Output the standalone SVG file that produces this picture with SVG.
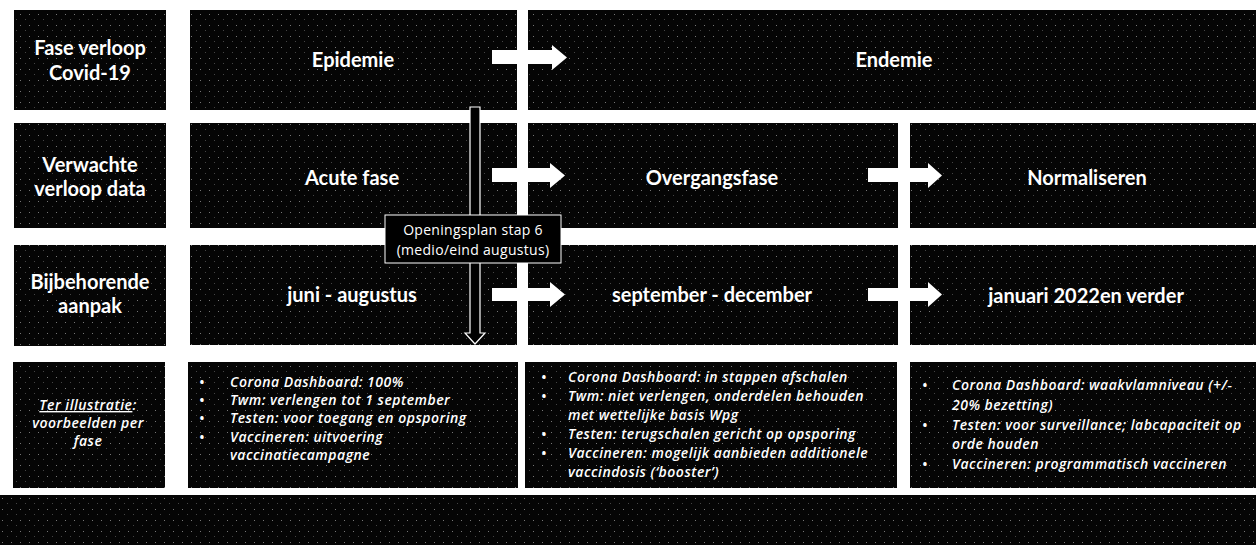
<svg xmlns="http://www.w3.org/2000/svg" width="1256" height="545" viewBox="0 0 1256 545">
<defs>
<pattern id="speck" width="9" height="11" patternUnits="userSpaceOnUse">
<rect width="9" height="11" fill="#050505"/>
<rect x="2" y="3" width="1" height="1" fill="#fff" fill-opacity="0.45"/>
<rect x="7" y="8" width="1" height="1" fill="#fff" fill-opacity="0.25"/>
</pattern>
<style>
.box{fill:url(#speck);}
.lbl{font-family:Lato,"Liberation Sans",sans-serif;font-weight:bold;font-size:20px;fill:#fff;text-anchor:middle;}
.ph{font-family:Lato,"Liberation Sans",sans-serif;font-weight:bold;font-size:20px;fill:#fff;text-anchor:middle;}
.it{font-family:"Open Sans","Liberation Sans",sans-serif;font-style:italic;font-weight:600;font-size:14px;letter-spacing:0.5px;fill:#fff;}
.itc{font-family:"Open Sans","Liberation Sans",sans-serif;font-style:italic;font-weight:600;font-size:14px;letter-spacing:0.5px;fill:#fff;text-anchor:middle;}
.call{font-family:"Open Sans","Liberation Sans",sans-serif;font-size:14px;letter-spacing:0.3px;fill:#fff;text-anchor:middle;}
.arr{fill:#fff;}
</style>
</defs>
<rect width="1256" height="545" fill="#fff"/>

<g id="row1">
<g id="lbl-fase"><rect class="box" x="14" y="10" width="152" height="100"/>
<text class="lbl" x="90" y="55">Fase verloop</text><text class="lbl" x="90" y="80">Covid-19</text></g>
<g id="epidemie"><rect class="box" x="190" y="10" width="327" height="100"/>
<text class="ph" x="353" y="67">Epidemie</text></g>
<g id="endemie"><rect class="box" x="528" y="10" width="728" height="100"/>
<text class="ph" x="894" y="67">Endemie</text></g>
</g>

<g id="row2">
<g id="lbl-verwachte"><rect class="box" x="14" y="123" width="152" height="105"/>
<text class="lbl" x="90" y="172">Verwachte</text><text class="lbl" x="90" y="196">verloop data</text></g>
<g id="acute"><rect class="box" x="190" y="123" width="327" height="105"/>
<text class="ph" x="352" y="185">Acute fase</text></g>
<g id="overgang"><rect class="box" x="528" y="123" width="370" height="105"/>
<text class="ph" x="712" y="185">Overgangsfase</text></g>
<g id="normaliseren"><rect class="box" x="910" y="123" width="346" height="105"/>
<text class="ph" x="1087" y="185">Normaliseren</text></g>
</g>

<g id="row3">
<g id="lbl-aanpak"><rect class="box" x="14" y="245" width="152" height="101"/>
<text class="lbl" x="90" y="289">Bijbehorende</text><text class="lbl" x="90" y="313">aanpak</text></g>
<g id="juni"><rect class="box" x="190" y="245" width="327" height="100"/>
<text class="ph" x="352" y="302">juni - augustus</text></g>
<g id="sept"><rect class="box" x="528" y="245" width="370" height="100"/>
<text class="ph" x="712" y="302">september - december</text></g>
<g id="januari"><rect class="box" x="910" y="245" width="346" height="100"/>
<text class="ph" x="1086" y="303">januari 2022en verder</text></g>
</g>

<g id="row4">
<g id="lbl-illustratie"><rect class="box" x="13" y="362" width="152" height="126"/>
<text class="itc" x="88" y="410"><tspan text-decoration="underline">Ter illustratie</tspan>:</text>
<text class="itc" x="88" y="428">voorbeelden per</text>
<text class="itc" x="88" y="446">fase</text></g>
<g id="vb-acute"><rect class="box" x="188" y="362" width="330" height="126"/>
<text class="it" x="199" y="387">•</text><text class="it" x="230" y="387">Corona Dashboard: 100%</text>
<text class="it" x="199" y="405">•</text><text class="it" x="230" y="405">Twm: verlengen tot 1 september</text>
<text class="it" x="199" y="423">•</text><text class="it" x="230" y="423">Testen: voor toegang en opsporing</text>
<text class="it" x="199" y="442">•</text><text class="it" x="230" y="442">Vaccineren: uitvoering</text>
<text class="it" x="230" y="460">vaccinatiecampagne</text></g>
<g id="vb-overgang"><rect class="box" x="525" y="362" width="372" height="126"/>
<text class="it" x="541" y="382">•</text><text class="it" x="568" y="382">Corona Dashboard: in stappen afschalen</text>
<text class="it" x="541" y="401">•</text><text class="it" x="568" y="401">Twm: niet verlengen, onderdelen behouden</text>
<text class="it" x="568" y="420">met wettelijke basis Wpg</text>
<text class="it" x="541" y="439">•</text><text class="it" x="568" y="439">Testen: terugschalen gericht op opsporing</text>
<text class="it" x="541" y="458">•</text><text class="it" x="568" y="458">Vaccineren: mogelijk aanbieden additionele</text>
<text class="it" x="568" y="477">vaccindosis (‘booster’)</text></g>
<g id="vb-normaal"><rect class="box" x="910" y="362" width="346" height="126"/>
<text class="it" x="922" y="390">•</text><text class="it" x="952" y="390">Corona Dashboard: waakvlamniveau (+/-</text>
<text class="it" x="952" y="410">20% bezetting)</text>
<text class="it" x="922" y="430">•</text><text class="it" x="952" y="430">Testen: voor surveillance; labcapaciteit op</text>
<text class="it" x="952" y="449">orde houden</text>
<text class="it" x="922" y="469">•</text><text class="it" x="952" y="469">Vaccineren: programmatisch vaccineren</text></g>
</g>

<rect id="band" class="box" x="0" y="495" width="1256" height="50"/>

<g id="connectors">
<path class="arr" d="M492,50 H552 V45 L567,57.5 L552,70 V64 H492 Z"/>
<path class="arr" d="M492,168 H550 V163 L565,175.5 L550,188 V182 H492 Z"/>
<path class="arr" d="M492,288 H550 V282 L565,294.5 L550,307 V301 H492 Z"/>
<path class="arr" d="M868,168 H928 V163 L942,175.5 L928,188 V182 H868 Z"/>
<path class="arr" d="M868,288 H928 V282 L942,294.5 L928,307 V301 H868 Z"/>
<path d="M470,107 H480 V333 H485 L475,344 L465,333 H470 Z" fill="#000" stroke="#fff" stroke-width="1.2"/>
</g>

<g id="callout">
<rect x="385" y="215" width="176" height="48" fill="#000" stroke="#fff" stroke-width="1"/>
<text class="call" x="473" y="235">Openingsplan stap 6</text>
<text class="call" x="473" y="255">(medio/eind augustus)</text>
</g>
</svg>
